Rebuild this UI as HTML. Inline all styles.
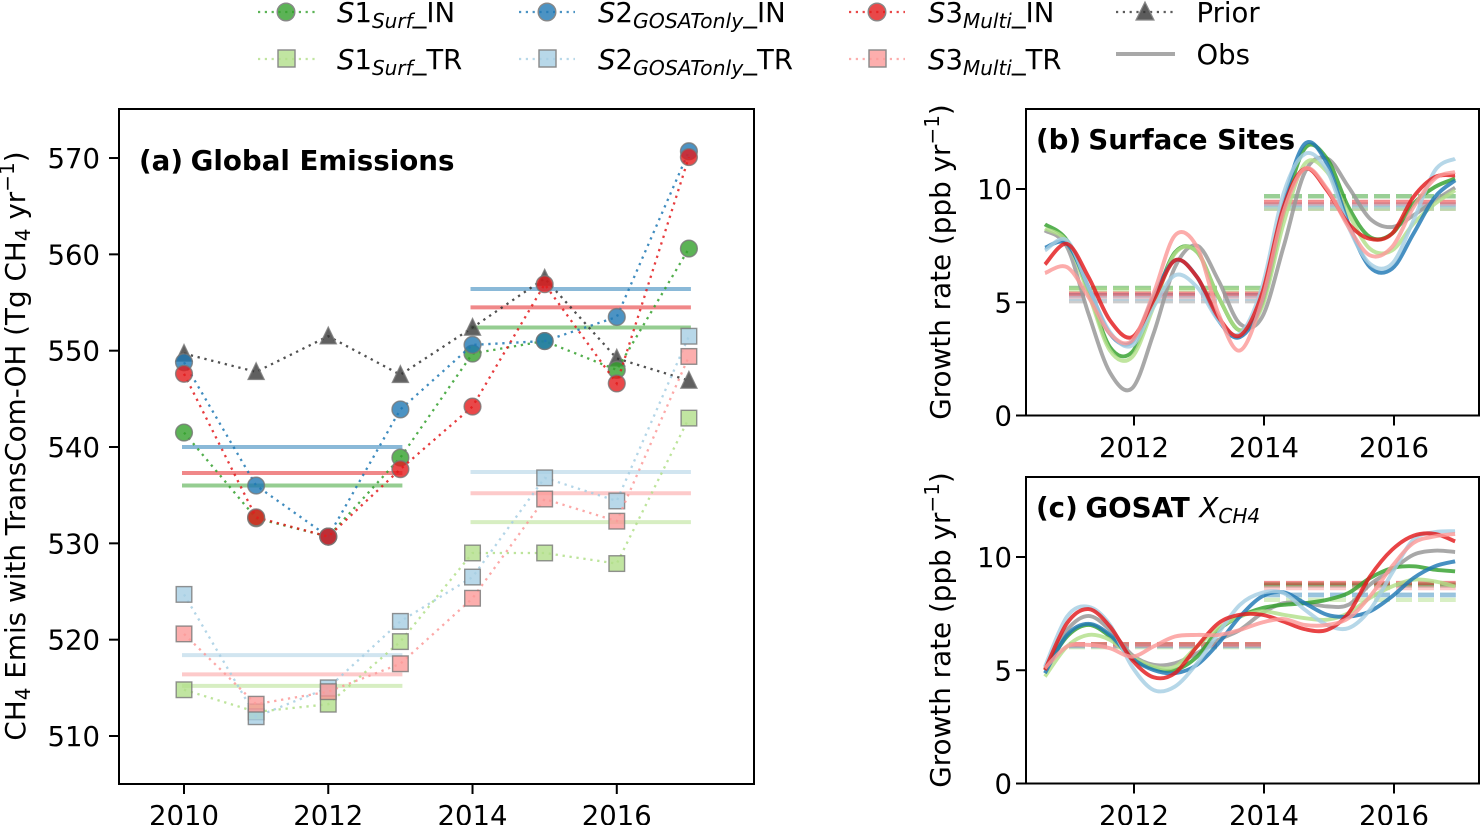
<!DOCTYPE html>
<html lang="en">
<head>
<meta charset="utf-8">
<title>CH4 emissions and growth rate</title>
<style>
html,body{margin:0;padding:0;background:#fff;width:1481px;height:825px;overflow:hidden}
svg{display:block;font-family:"DejaVu Sans","Liberation Sans",sans-serif;fill:#000}
.lg{font-size:27.5px}
.tl{font-size:27.8px}
.ttl{font-size:27.7px;font-weight:bold}
</style>
</head>
<body>
<svg id="fig" width="1481" height="825" viewBox="0 0 1481 825" xmlns="http://www.w3.org/2000/svg">
  <rect x="0" y="0" width="1481" height="825" fill="#fff"/>
  <g id="panel-a"></g>
  <g id="panel-b"></g>
  <g id="panel-c"></g>

  <text class="ttl" x="139" y="170">(a)<tspan dx="-2"> Global Emissions</tspan></text>
  <text class="ttl" x="1036" y="149">(b)<tspan dx="-2.5"> Surface Sites</tspan></text>
  <text class="ttl" x="1036" y="517">(c)<tspan dx="-2"> GOSAT </tspan><tspan font-weight="normal" font-style="italic">X<tspan font-size="20" dy="6">CH4</tspan></tspan></text>

  <text class="tl" text-anchor="middle" transform="translate(25,446) rotate(-90)">CH<tspan font-size="20" dy="5">4</tspan><tspan dy="-5"> Emis with TransCom-OH (Tg CH</tspan><tspan font-size="20" dy="5">4</tspan><tspan dy="-5"> yr</tspan><tspan font-size="20" dy="-11">−1</tspan><tspan dy="11">)</tspan></text>
  <text class="tl" text-anchor="middle" transform="translate(950,262) rotate(-90)">Growth rate (ppb yr<tspan font-size="20" dy="-11">−1</tspan><tspan dy="11">)</tspan></text>
  <text class="tl" text-anchor="middle" transform="translate(950,630) rotate(-90)">Growth rate (ppb yr<tspan font-size="20" dy="-11">−1</tspan><tspan dy="11">)</tspan></text>

  <g>
    <g>
      <line x1="258" y1="12" x2="315" y2="12" stroke="#33a02c" stroke-opacity=".8" stroke-width="2.2" stroke-dasharray="2.2 4.6"/>
      <circle cx="286" cy="12" r="8.8" fill="#33a02c" fill-opacity=".8" stroke="#888" stroke-width="1.4"/>
      <text class="lg" x="337" y="22"><tspan font-style="italic">S</tspan>1<tspan font-style="italic" font-size="20" dy="6">Surf</tspan><tspan dy="-6">_IN</tspan></text>
    </g>
    <g>
      <line x1="258" y1="59" x2="315" y2="59" stroke="#b2df8a" stroke-opacity=".8" stroke-width="2.2" stroke-dasharray="2.2 4.6"/>
      <rect x="278" y="50" width="17" height="17" fill="#b2df8a" fill-opacity=".8" stroke="#888" stroke-width="1.4"/>
      <text class="lg" x="337" y="69"><tspan font-style="italic">S</tspan>1<tspan font-style="italic" font-size="20" dy="6">Surf</tspan><tspan dy="-6">_TR</tspan></text>
    </g>
    <g>
      <line x1="519" y1="12" x2="575" y2="12" stroke="#1f78b4" stroke-opacity=".8" stroke-width="2.2" stroke-dasharray="2.2 4.6"/>
      <circle cx="547" cy="12" r="8.8" fill="#1f78b4" fill-opacity=".8" stroke="#888" stroke-width="1.4"/>
      <text class="lg" x="598" y="22"><tspan font-style="italic">S</tspan>2<tspan font-style="italic" font-size="20.4" dy="6">GOSATonly</tspan><tspan dy="-6">_IN</tspan></text>
    </g>
    <g>
      <line x1="519" y1="59" x2="575" y2="59" stroke="#a6cee3" stroke-opacity=".8" stroke-width="2.2" stroke-dasharray="2.2 4.6"/>
      <rect x="539" y="50" width="17" height="17" fill="#a6cee3" fill-opacity=".8" stroke="#888" stroke-width="1.4"/>
      <text class="lg" x="598" y="69"><tspan font-style="italic">S</tspan>2<tspan font-style="italic" font-size="20.4" dy="6">GOSATonly</tspan><tspan dy="-6">_TR</tspan></text>
    </g>
    <g>
      <line x1="849" y1="12" x2="905" y2="12" stroke="#e31a1c" stroke-opacity=".8" stroke-width="2.2" stroke-dasharray="2.2 4.6"/>
      <circle cx="877" cy="12" r="8.8" fill="#e31a1c" fill-opacity=".8" stroke="#888" stroke-width="1.4"/>
      <text class="lg" x="928" y="22"><tspan font-style="italic">S</tspan>3<tspan font-style="italic" font-size="20" dy="6">Multi</tspan><tspan dy="-6">_IN</tspan></text>
    </g>
    <g>
      <line x1="849" y1="59" x2="905" y2="59" stroke="#fb9a99" stroke-opacity=".8" stroke-width="2.2" stroke-dasharray="2.2 4.6"/>
      <rect x="869" y="50" width="17" height="17" fill="#fb9a99" fill-opacity=".8" stroke="#888" stroke-width="1.4"/>
      <text class="lg" x="928" y="69"><tspan font-style="italic">S</tspan>3<tspan font-style="italic" font-size="20" dy="6">Multi</tspan><tspan dy="-6">_TR</tspan></text>
    </g>
    <g>
      <line x1="1116" y1="12" x2="1175" y2="12" stroke="#333" stroke-opacity=".8" stroke-width="2.2" stroke-dasharray="2.2 4.6"/>
      <polygon points="1145,2 1154,20 1136,20" fill="#333" fill-opacity=".8" stroke="#888" stroke-width="1.2"/>
      <text class="lg" x="1196.5" y="22">Prior</text>
    </g>
    <g>
      <line x1="1116" y1="54" x2="1175" y2="54" stroke="#999" stroke-opacity=".85" stroke-width="4"/>
      <text class="lg" x="1196.5" y="64">Obs</text>
    </g>
  </g>
</svg>
<script>
/* ---------- Panel (a) data: global emissions, Tg CH4/yr ---------- */
var emisYears = [2010, 2011, 2012, 2013, 2014, 2015, 2016, 2017];
var priorEmis = [549.7, 547.8, 551.5, 547.5, 552.4, 557.5, 549.2, 546.9];
var s1InEmis  = [541.5, 532.6, 530.7, 538.9, 549.7, 551.0, 548.0, 560.6];
var s2InEmis  = [548.8, 536.0, 530.7, 543.9, 550.6, 551.0, 553.5, 570.7];
var s3InEmis  = [547.6, 532.7, 530.7, 537.7, 544.2, 556.9, 546.6, 570.1];
var s1TrEmis  = [514.8, 512.5, 513.3, 519.8, 529.0, 529.0, 527.9, 543.0];
var s2TrEmis  = [524.7, 512.0, 515.0, 521.9, 526.5, 536.8, 534.4, 551.5];
var s3TrEmis  = [520.6, 513.3, 514.6, 517.5, 524.3, 534.6, 532.3, 549.4];
/* period means, first period then second period */
var meanPeriodsA = [[2010, 2013], [2014, 2017]];
var s1InMean = [536.0, 552.4];
var s2InMean = [540.0, 556.4];
var s3InMean = [537.3, 554.5];
var s1TrMean = [515.2, 532.2];
var s2TrMean = [518.4, 537.4];
var s3TrMean = [516.4, 535.2];
var xTicksA = [2010, 2012, 2014, 2016];
var yTicksA = [510, 520, 530, 540, 550, 560, 570];

/* ---------- Panels (b), (c) shared sample times ---------- */
var growthTimes = [2010.63, 2010.97, 2011.30, 2011.63, 2011.97, 2012.30, 2012.63, 2012.97, 2013.30, 2013.63, 2013.97, 2014.30, 2014.63, 2014.97, 2015.30, 2015.63, 2015.97, 2016.30, 2016.63, 2016.94];
var meanPeriodsG = [[2011, 2013.96], [2014, 2016.95]];
var xTicksG = [2012, 2014, 2016];
var yTicksG = [0, 5, 10];

/* ---------- Panel (b) data: surface sites growth rate ---------- */
var obsSurf  = [8.17, 7.44, 4.49, 1.90, 1.20, 3.61, 6.55, 7.50, 5.96, 4.05, 4.34, 7.44, 10.75, 11.35, 10.09, 8.69, 8.32, 8.84, 9.50, 10.06];
var s1InSurf = [8.44, 7.73, 5.52, 3.02, 2.80, 4.93, 7.20, 7.22, 5.23, 3.76, 4.93, 8.91, 11.80, 11.34, 9.20, 7.88, 8.03, 9.35, 10.09, 10.46];
var s2InSurf = [7.41, 7.58, 5.67, 3.61, 3.24, 5.23, 6.85, 6.11, 4.20, 3.46, 5.08, 9.35, 12.00, 11.12, 8.47, 6.55, 6.48, 8.03, 9.65, 10.38];
var s3InSurf = [6.67, 7.58, 6.11, 4.20, 3.46, 5.08, 6.85, 6.11, 4.34, 3.53, 5.38, 9.20, 10.90, 9.94, 8.47, 7.80, 8.03, 9.65, 10.53, 10.60];
var s1TrSurf = [8.25, 7.66, 5.38, 2.87, 2.58, 4.79, 7.15, 7.22, 5.23, 3.76, 4.79, 8.47, 11.12, 10.75, 8.91, 7.36, 7.29, 8.47, 9.35, 9.94];
var s2TrSurf = [7.29, 7.73, 5.67, 3.68, 3.09, 4.79, 6.19, 5.67, 4.20, 3.61, 5.67, 9.79, 11.55, 10.82, 8.32, 6.70, 6.70, 8.62, 10.82, 11.34];
var s3TrSurf = [6.29, 6.55, 5.23, 3.61, 3.31, 5.38, 7.95, 7.44, 4.49, 2.87, 5.08, 8.98, 10.90, 10.01, 8.32, 7.07, 7.44, 9.20, 10.46, 10.75];
var obsSurfMean  = [5.05, 9.13];
var s1InSurfMean = [5.63, 9.68];
var s2InSurfMean = [5.30, 9.32];
var s3InSurfMean = [5.38, 9.43];
var s1TrSurfMean = [5.55, 9.13];
var s2TrSurfMean = [5.15, 9.23];
var s3TrSurfMean = [5.25, 9.36];

/* ---------- Panel (c) data: GOSAT growth rate ---------- */
var obsGosat  = [5.09, 6.78, 7.40, 6.78, 5.68, 5.24, 5.31, 5.75, 6.34, 6.78, 7.52, 7.96, 7.96, 7.82, 7.89, 8.78, 9.44, 10.10, 10.28, 10.22];
var s1InGosat = [5.01, 6.49, 7.00, 6.49, 5.53, 5.09, 5.01, 5.60, 6.78, 7.37, 7.74, 7.89, 7.96, 8.11, 8.41, 9.07, 9.51, 9.59, 9.44, 9.37];
var s2InGosat = [4.87, 6.56, 7.05, 6.56, 5.53, 5.01, 4.87, 5.24, 6.19, 7.37, 8.26, 8.44, 7.96, 7.45, 7.37, 7.60, 8.26, 9.07, 9.59, 9.81];
var s3InGosat = [5.01, 7.08, 7.70, 6.93, 5.46, 4.69, 4.87, 6.05, 7.08, 7.45, 7.45, 7.15, 6.81, 6.78, 7.52, 9.14, 10.32, 10.94, 11.02, 10.69];
var s1TrGosat = [4.72, 6.05, 6.56, 6.34, 5.60, 5.16, 5.16, 6.05, 6.86, 7.37, 7.60, 7.45, 7.30, 7.23, 7.52, 8.19, 8.70, 9.00, 8.92, 8.70];
var s2TrGosat = [5.16, 7.37, 7.80, 7.01, 5.16, 4.13, 4.28, 5.31, 6.64, 7.89, 8.42, 8.41, 7.67, 7.00, 6.86, 7.67, 9.29, 10.77, 11.10, 11.14];
var s3TrGosat = [5.09, 6.05, 6.12, 5.97, 5.60, 6.05, 6.49, 6.56, 6.56, 6.78, 7.11, 7.26, 7.00, 7.00, 7.30, 8.26, 9.59, 10.62, 10.91, 11.02];
var obsGosatMean  = [6.05, 8.73];
var s1InGosatMean = [6.12, 8.78];
var s2InGosatMean = [6.08, 8.33];
var s3InGosatMean = [6.15, 8.85];
var s1TrGosatMean = [6.02, 8.11];
var s2TrGosatMean = [6.06, 8.30];
var s3TrGosatMean = [6.10, 8.63];

/* ---------- Axis functions ---------- */
function xA(t){ return 184 + (t - 2010) * 72.13; }
function yA(v){ return 736 - (v - 510) * 9.633; }
function xG(t){ return 1134 + (t - 2012) * 65; }
function yB(v){ return 415.5 - v * 22.65; }
function yC(v){ return 783.5 - v * 22.65; }

var NS = 'http://www.w3.org/2000/svg';
var GREEN = '#33a02c', LGREEN = '#b2df8a', BLUE = '#1f78b4', LBLUE = '#a6cee3', RED = '#e31a1c', PINK = '#fb9a99', GREY = '#999999', DARK = '#333333';

function el(parent, tag, attrs){
  var e = document.createElementNS(NS, tag);
  for (var k in attrs) e.setAttribute(k, attrs[k]);
  parent.appendChild(e);
  return e;
}

function smoothPath(xs, ys, fx, fy){
  var d = 'M' + fx(xs[0]).toFixed(2) + ' ' + fy(ys[0]).toFixed(2);
  for (var i = 0; i < xs.length - 1; i++){
    var i0 = Math.max(i - 1, 0), i3 = Math.min(i + 2, xs.length - 1);
    var x1 = fx(xs[i]), y1 = fy(ys[i]), x2 = fx(xs[i + 1]), y2 = fy(ys[i + 1]);
    var cx1 = x1 + (x2 - fx(xs[i0])) / 6, cy1 = y1 + (y2 - fy(ys[i0])) / 6;
    var cx2 = x2 - (fx(xs[i3]) - x1) / 6, cy2 = y2 - (fy(ys[i3]) - y1) / 6;
    d += 'C' + cx1.toFixed(2) + ' ' + cy1.toFixed(2) + ' ' + cx2.toFixed(2) + ' ' + cy2.toFixed(2) + ' ' + x2.toFixed(2) + ' ' + y2.toFixed(2);
  }
  return d;
}

function axes(g, box, fx, fy, xTicks, yTicks, xLabelY, yLabelX, prefix){
  var frame = el(g, 'rect', {x: box.l, y: box.t, width: box.r - box.l, height: box.b - box.t, fill: 'none', stroke: '#000', 'stroke-width': 2});
  
  
  xTicks.forEach(function(t){
    var tick = el(g, 'line', {x1: fx(t), x2: fx(t), y1: box.b, y2: box.b + 10, stroke: '#000', 'stroke-width': 2});
    
    
    var lab = el(g, 'text', {x: fx(t), y: xLabelY, 'text-anchor': 'middle', 'font-size': 27.5});
    
    
    lab.textContent = t;
  });
  yTicks.forEach(function(v){
    var tick = el(g, 'line', {x1: box.l - 10, x2: box.l, y1: fy(v), y2: fy(v), stroke: '#000', 'stroke-width': 2});
    
    
    var lab = el(g, 'text', {x: yLabelX, y: fy(v) + 10, 'text-anchor': 'end', 'font-size': 27.5});
    
    
    lab.textContent = v;
  });
}

/* ---------- Panel (a) ---------- */
var gA = document.getElementById('panel-a');
var meansA = [
  {n: 's2-in', v: s2InMean, c: BLUE}, {n: 's3-in', v: s3InMean, c: RED}, {n: 's1-in', v: s1InMean, c: GREEN},
  {n: 's2-tr', v: s2TrMean, c: LBLUE}, {n: 's3-tr', v: s3TrMean, c: PINK}, {n: 's1-tr', v: s1TrMean, c: LGREEN}
];
meansA.forEach(function(s){
  meanPeriodsA.forEach(function(p, i){
    var m = el(gA, 'line', {x1: xA(p[0]), x2: xA(p[1]), y1: yA(s.v[i]), y2: yA(s.v[i]), stroke: s.c, 'stroke-width': 4, 'stroke-opacity': .52, 'stroke-linecap': 'square'});
    
    
  });
});
var seriesA = [
  {n: 'prior', v: priorEmis, c: DARK, m: 't'},
  {n: 's1-in', v: s1InEmis, c: GREEN, m: 'c'},
  {n: 's2-in', v: s2InEmis, c: BLUE, m: 'c'},
  {n: 's3-in', v: s3InEmis, c: RED, m: 'c'},
  {n: 's1-tr', v: s1TrEmis, c: LGREEN, m: 's'},
  {n: 's2-tr', v: s2TrEmis, c: LBLUE, m: 's'},
  {n: 's3-tr', v: s3TrEmis, c: PINK, m: 's'}
];
seriesA.forEach(function(s){
  var pts = emisYears.map(function(t, i){ return xA(t).toFixed(2) + ',' + yA(s.v[i]).toFixed(2); }).join(' ');
  var pl = el(gA, 'polyline', {points: pts, fill: 'none', stroke: s.c, 'stroke-opacity': .85, 'stroke-width': 2.3, 'stroke-dasharray': '2.3 4.7'});
  
  
  emisYears.forEach(function(t, i){
    var x = xA(t), y = yA(s.v[i]), mk;
    if (s.m === 'c') mk = el(gA, 'circle', {cx: x, cy: y, r: 8.4});
    else if (s.m === 's') mk = el(gA, 'rect', {x: x - 7.8, y: y - 7.8, width: 15.6, height: 15.6});
    else mk = el(gA, 'polygon', {points: x + ',' + (y - 9) + ' ' + (x + 8) + ',' + (y + 7.6) + ' ' + (x - 8) + ',' + (y + 7.6)});
    mk.setAttribute('fill', s.c);
    mk.setAttribute('fill-opacity', s.m === 't' ? .78 : .8);
    mk.setAttribute('stroke', '#777');
    mk.setAttribute('stroke-opacity', .8);
    mk.setAttribute('stroke-width', 1.4);
    
    
  });
});
axes(gA, {l: 119, r: 754, t: 109, b: 784}, xA, yA, xTicksA, yTicksA, 825, 100, 'panel-a');

/* ---------- Panels (b), (c) ---------- */
function growthPanel(g, fy, series, box, prefix, labelY){
  var clip = el(g, 'g', {});
  
  
  series.forEach(function(s){
    meanPeriodsG.forEach(function(p, i){
      var m = el(clip, 'line', {x1: xG(p[0]), x2: xG(p[1]), y1: fy(s.m[i]), y2: fy(s.m[i]), stroke: s.c, 'stroke-width': 4.4, 'stroke-opacity': .5, 'stroke-dasharray': '16 6'});
      
      
    });
  });
  series.forEach(function(s){
    var c = el(clip, 'path', {d: smoothPath(growthTimes, s.v, xG, fy), fill: 'none', stroke: s.c, 'stroke-width': 3.9, 'stroke-opacity': s.n === 'obs' ? .85 : .82, 'stroke-linejoin': 'round'});
    
    
  });
  axes(g, box, xG, fy, xTicksG, yTicksG, labelY, 1012, prefix);
}
growthPanel(document.getElementById('panel-b'), yB, [
  {n: 'obs', v: obsSurf, m: obsSurfMean, c: GREY},
  {n: 's1-in', v: s1InSurf, m: s1InSurfMean, c: GREEN},
  {n: 's1-tr', v: s1TrSurf, m: s1TrSurfMean, c: LGREEN},
  {n: 's2-in', v: s2InSurf, m: s2InSurfMean, c: BLUE},
  {n: 's2-tr', v: s2TrSurf, m: s2TrSurfMean, c: LBLUE},
  {n: 's3-in', v: s3InSurf, m: s3InSurfMean, c: RED},
  {n: 's3-tr', v: s3TrSurf, m: s3TrSurfMean, c: PINK}
], {l: 1026, r: 1479, t: 109, b: 415.5}, 'panel-b', 457);
growthPanel(document.getElementById('panel-c'), yC, [
  {n: 'obs', v: obsGosat, m: obsGosatMean, c: GREY},
  {n: 's1-in', v: s1InGosat, m: s1InGosatMean, c: GREEN},
  {n: 's1-tr', v: s1TrGosat, m: s1TrGosatMean, c: LGREEN},
  {n: 's2-in', v: s2InGosat, m: s2InGosatMean, c: BLUE},
  {n: 's2-tr', v: s2TrGosat, m: s2TrGosatMean, c: LBLUE},
  {n: 's3-in', v: s3InGosat, m: s3InGosatMean, c: RED},
  {n: 's3-tr', v: s3TrGosat, m: s3TrGosatMean, c: PINK}
], {l: 1026, r: 1479, t: 477, b: 783.5}, 'panel-c', 825);
</script>
</body>
</html>
